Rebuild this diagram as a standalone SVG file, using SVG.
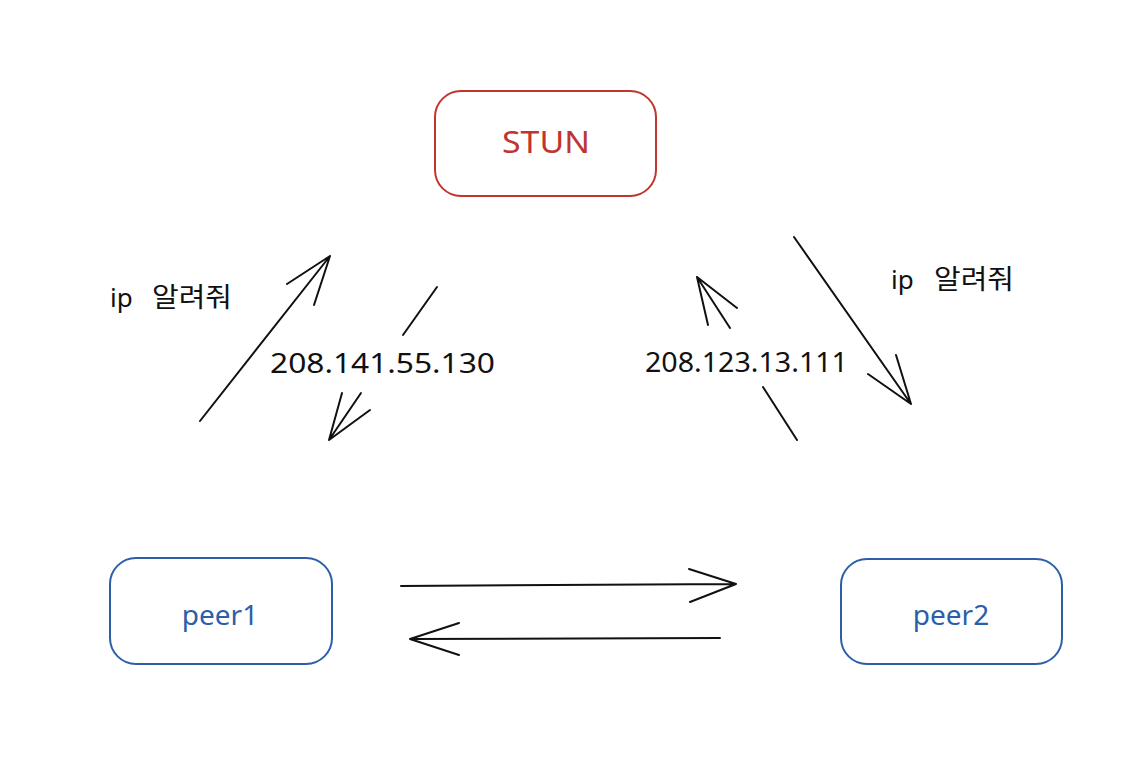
<svg xmlns="http://www.w3.org/2000/svg" width="1142" height="780" viewBox="0 0 1142 780">
<style>
.box{fill:none;stroke-width:2;}
.red{stroke:#c0352f;}
.blue{stroke:#2c5fa8;}
.lbl{font-family:"Noto Sans","Liberation Sans","Noto Sans CJK KR",sans-serif;text-anchor:middle;}
.t{font-family:"Noto Sans","Noto Sans CJK KR",sans-serif;fill:#111;}
.ln{stroke:#111;stroke-width:2;fill:none;stroke-linecap:round;stroke-linejoin:round;}
</style>
<rect width="1142" height="780" fill="#fff"/>
<g id="stun">
<rect class="box red" x="435" y="91" width="221" height="105" rx="26"/>
<text class="lbl" x="546" y="153" font-size="30" fill="#c0352f" textLength="88" lengthAdjust="spacingAndGlyphs">STUN</text>
</g>
<g id="peer1">
<rect class="box blue" x="110" y="558" width="222" height="106" rx="26"/>
<text class="lbl" x="220" y="625" font-size="28" fill="#2c5fa8">peer1</text>
</g>
<g id="peer2">
<rect class="box blue" x="841" y="559" width="221" height="105" rx="26"/>
<text class="lbl" x="951" y="625" font-size="28" fill="#2c5fa8">peer2</text>
</g>
<g id="connectors">
<path class="ln" d="M200 421 L330 256 M287 284 L330 256 L314 305"/>
<path class="ln" d="M437 287 L403 335 M361 393 L329 440 M342 393 L329 440 L370 410"/>
<path class="ln" d="M797 440 L763 387 M730 328 L697 277 M708 325 L697 277 L737 308"/>
<path class="ln" d="M794 237 L911 404 M868 374 L911 404 L896 355"/>
<path class="ln" d="M401 586 L736 584 M689 569 L736 584 L690 602"/>
<path class="ln" d="M720 638 L410 639 M459 623 L410 639 L459 655"/>
</g>
<g id="labels">
<text class="t" x="110" y="307" font-size="26">ip</text>
<text class="t" x="152" y="307" font-size="27" textLength="80" lengthAdjust="spacingAndGlyphs">알려줘</text>
<text class="t" x="891" y="289" font-size="26">ip</text>
<text class="t" x="934" y="289" font-size="27" textLength="80" lengthAdjust="spacingAndGlyphs">알려줘</text>
<text class="t" x="270" y="373" font-size="28" textLength="225" lengthAdjust="spacingAndGlyphs">208.141.55.130</text>
<text class="t" x="645" y="372" font-size="28" textLength="203" lengthAdjust="spacingAndGlyphs">208.123.13.111</text>
</g>
</svg>
